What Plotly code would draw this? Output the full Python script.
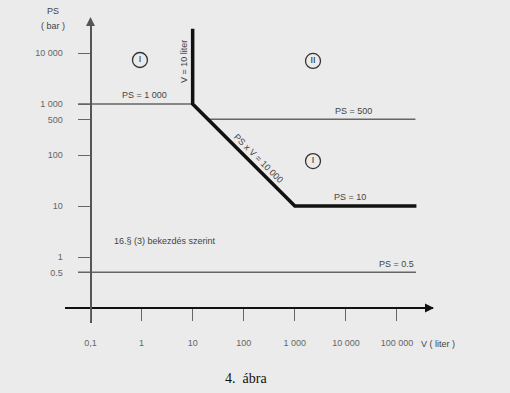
import math
import plotly.graph_objects as go

W, H = 510, 393

# ---- data ----
v_ticks = [0.1, 1, 10, 100, 1000, 10000, 100000]
v_tick_labels = ["0,1", "1", "10", "100", "1 000", "10 000", "100 000"]
ps_ticks = [0.5, 1, 10, 100, 500, 1000, 10000]
ps_tick_labels = ["0.5", "1", "10", "100", "500", "1 000", "10 000"]

boundary_v = [10, 10, 1000, 240000]        # V = 10, PS*V = 10 000, PS = 10
boundary_ps = [30000, 1000, 10, 10]
ps1000_v = [0.057, 10]
ps1000_ps = [1000, 1000]
ps500_v = [20, 230000]
ps500_ps = [500, 500]
ps05_v = [0.057, 235000]
ps05_ps = [0.5, 0.5]

region_labels = ["I", "II", "I"]
region_v = [0.93, 2270, 2270]
region_ps = [7300, 7000, 76]

# ---- layout helpers (pixel -> paper) ----
def px(x):
    return x / W

def py(y):
    return 1 - y / H

BG = "#ebebeb"
FONT = "Liberation Sans, Arial, sans-serif"
TXT = "#444444"

fig = go.Figure()

thin = dict(color="#666666", width=1.5)
fig.add_trace(go.Scatter(x=ps1000_v, y=ps1000_ps, mode="lines", line=thin, hoverinfo="skip"))
fig.add_trace(go.Scatter(x=ps500_v, y=ps500_ps, mode="lines", line=thin, hoverinfo="skip"))
fig.add_trace(go.Scatter(x=ps05_v, y=ps05_ps, mode="lines", line=thin, hoverinfo="skip"))
fig.add_trace(go.Scatter(x=boundary_v, y=boundary_ps, mode="lines",
                         line=dict(color="#111111", width=3.5), hoverinfo="skip"))
fig.add_trace(go.Scatter(x=region_v, y=region_ps, mode="markers+text", text=region_labels,
                         textposition="middle center",
                         textfont=dict(family=FONT, size=9, color="#222222"),
                         marker=dict(symbol="circle-open", size=15,
                                     line=dict(color="#333333", width=1.3), color="#333333"),
                         hoverinfo="skip", cliponaxis=False))

annots = []

def txt(text, x, y, size=9, color=TXT, angle=0, family=FONT):
    annots.append(dict(text=text, x=px(x), y=py(y), xref="paper", yref="paper",
                       showarrow=False, xanchor="center", yanchor="middle",
                       textangle=angle, font=dict(family=family, size=size, color=color)))

txt("PS = 1 000", 144, 95)
txt("V = 10 liter", 184, 62, angle=-90)
txt("PS x V = 10 000", 258, 158, angle=45)
txt("PS = 500", 353, 111)
txt("PS = 10", 350, 197)
txt("16.§ (3) bekezdés szerint", 165, 241)
txt("PS = 0.5", 396, 264)
txt("V ( liter )", 438, 344)
txt("PS", 53, 11)
txt("( bar )", 53, 26)
txt("4.  ábra", 246, 378, size=14, color="#111111", family="Liberation Serif, Times New Roman, serif")

# axis arrows
annots.append(dict(x=px(90.5), y=py(17), xref="paper", yref="paper", text="",
                   showarrow=True, ax=0, ay=10, axref="pixel", ayref="pixel",
                   arrowhead=2, arrowsize=1, arrowwidth=1.8, arrowcolor="#555555", standoff=0))
annots.append(dict(x=px(434), y=py(308), xref="paper", yref="paper", text="",
                   showarrow=True, ax=-10, ay=0, axref="pixel", ayref="pixel",
                   arrowhead=2, arrowsize=1, arrowwidth=1.8, arrowcolor="#111111", standoff=0))

fig.update_layout(
    width=W, height=H, autosize=False,
    margin=dict(l=0, r=0, t=0, b=0),
    paper_bgcolor=BG, plot_bgcolor=BG,
    showlegend=False,
    annotations=annots,
    xaxis=dict(type="log", range=[-1.499, 5.705], domain=[px(65), px(433)],
               anchor="free", position=py(308),
               showline=True, linecolor="#111111", linewidth=2,
               ticks="outside", ticklen=12, tickwidth=1.3, tickcolor="#666666",
               tickvals=v_ticks, ticktext=v_tick_labels, ticklabelstandoff=14,
               tickfont=dict(family=FONT, size=9, color="#666666"),
               showgrid=False, zeroline=False, fixedrange=True),
    yaxis=dict(type="log", range=[-1.294, 4.608], domain=[py(323), py(22)],
               anchor="free", position=px(90.5),
               showline=True, linecolor="#555555", linewidth=2,
               ticks="outside", ticklen=12, tickwidth=1.3, tickcolor="#666666",
               tickvals=ps_ticks, ticktext=ps_tick_labels, ticklabelstandoff=13,
               tickfont=dict(family=FONT, size=9, color="#666666"),
               showgrid=False, zeroline=False, fixedrange=True),
)

fig.write_html("out.html", config={"displayModeBar": False},
               post_script="document.body.style.margin='0';document.body.style.background='%s';" % BG)
